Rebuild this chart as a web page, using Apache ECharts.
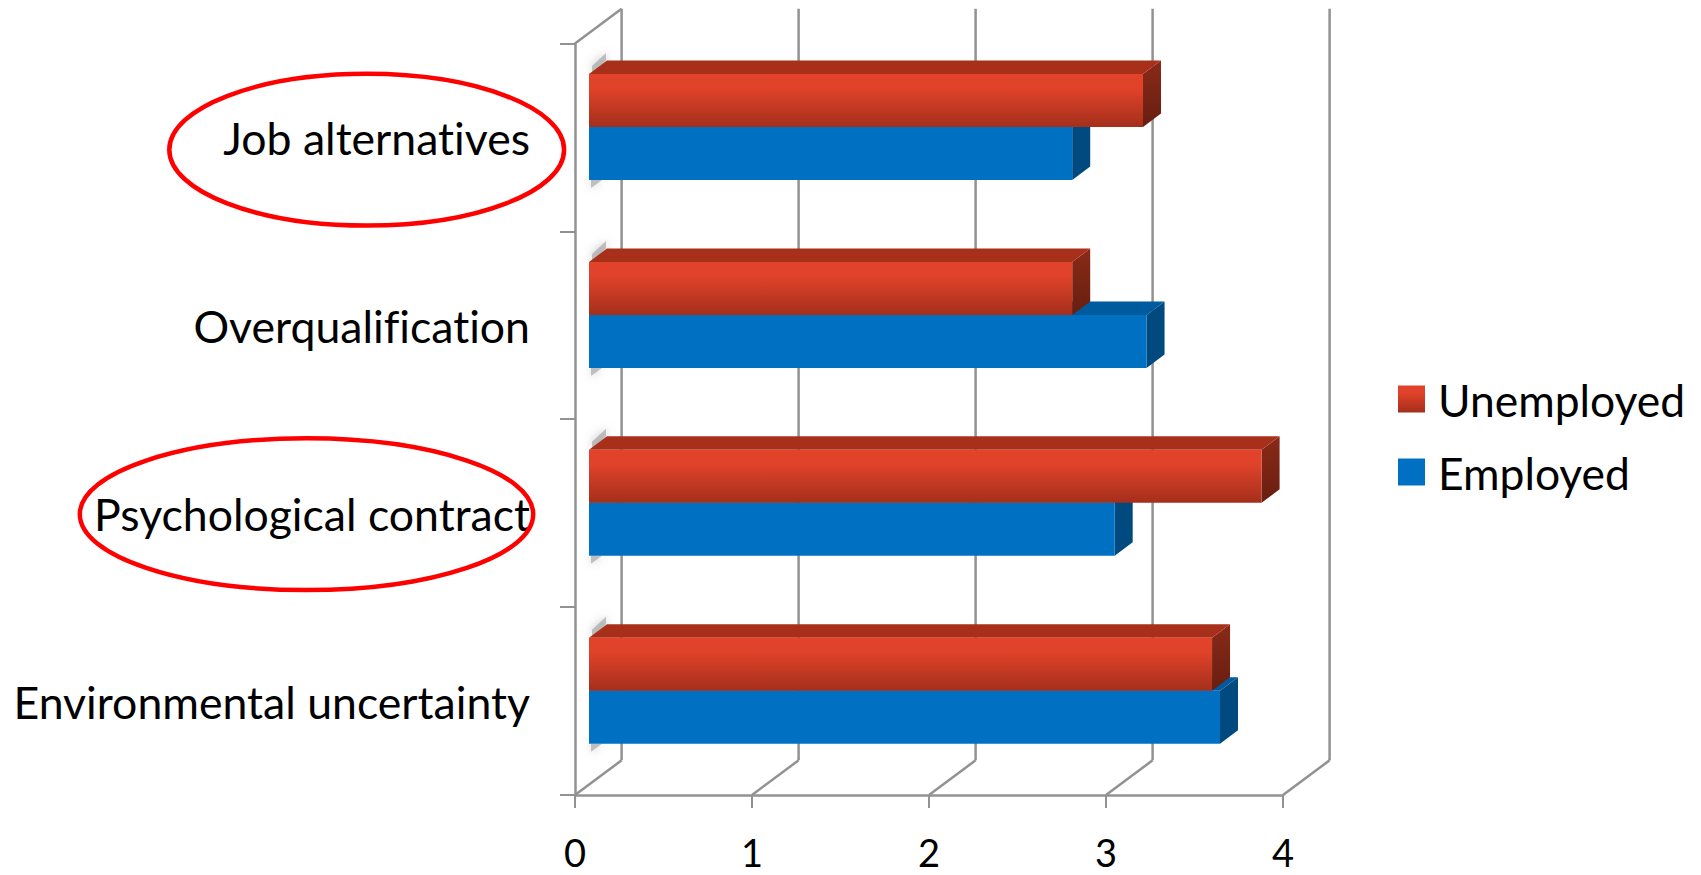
<!DOCTYPE html>
<html>
<head>
<meta charset="utf-8">
<title>Employed and unemployed perceptions</title>
<script src="https://cdn.jsdelivr.net/npm/echarts@6/dist/echarts.min.js"></script>
<style>
html,body{margin:0;padding:0;background:#fff}
#chart{width:1701px;height:875px}
#chart text{font-variant-ligatures:none}
</style>
</head>
<body>
<div id="chart"></div>
<script>
// Values, listed from the top row of the chart downward
const categories = ['Job alternatives', 'Overqualification', 'Psychological contract', 'Environmental uncertainty'];
const unemployed = [3.13, 2.73, 3.80, 3.52];
const employed = [2.73, 3.15, 2.97, 3.565];
const ticks = [0, 1, 2, 3, 4];

// Pseudo-3D projection, in pixels
const wall = { dx: 46.6, dy: -34.7 };   // front plane to back wall
const rest = { dx: 14, dy: -10.3 };     // front plane to the bars' front faces
const side = { dx: 18, dy: -13.5 };     // extrusion of each bar
const barH = 53;
const lineGrey = '#929292';
const lineW = 2.5;
const font = 'Lato';

const vgrad = (stops) => ({
  type: 'linear', x: 0, y: 0, x2: 0, y2: 1,
  colorStops: stops.map(([offset, color]) => ({ offset, color }))
});
const redFront = vgrad([[0, '#e2432a'], [0.28, '#e0422a'], [1, '#a42f1b']]);
const redSide = vgrad([[0, '#8a2a18'], [1, '#681e10']]);
const blue = '#0071c2';

const chart = echarts.init(document.getElementById('chart'), null, { renderer: 'svg' });

// One extruded bar: side face, top face, then front face
function boxRenderer(row, colors) {
  return function (params, api) {
    const v = api.value(0);
    const c = api.coord([v, api.value(1)]);
    const zero = api.coord([0, api.value(1)]);
    const x0 = zero[0] + rest.dx;
    const x1 = c[0] + rest.dx;
    const mid = c[1] + rest.dy;
    const top = row === 0 ? mid - barH : mid;
    const bot = top + barH;
    const poly = (points, fill) => ({ type: 'polygon', shape: { points }, style: { fill } });
    return {
      type: 'group',
      children: [
        poly([[x1, top], [x1 + side.dx, top + side.dy], [x1 + side.dx, bot + side.dy], [x1, bot]], colors.side),
        poly([[x0, top], [x0 + side.dx, top + side.dy], [x1 + side.dx, top + side.dy], [x1, top]], colors.top),
        { type: 'rect', shape: { x: x0, y: top, width: x1 - x0, height: barH }, style: { fill: colors.front } }
      ]
    };
  };
}

// Walls and floor: one back-wall gridline plus floor diagonal for each tick
function frameRenderer(params, api) {
  const v = api.value(0);
  const band = api.size([0, 1])[1];
  const last = api.coord([v, categories.length - 1]);
  const first = api.coord([0, 0]);
  const baseY = last[1] + band / 2;
  const topY = first[1] - band / 2;
  const line = (x1, y1, x2, y2) => ({
    type: 'line', shape: { x1, y1, x2, y2 }, style: { stroke: lineGrey, lineWidth: lineW }
  });
  const bx = last[0] + wall.dx;
  const by = baseY + wall.dy;
  const children = [
    line(last[0], baseY, bx, by),
    line(bx, by, bx, topY + wall.dy)
  ];
  if (v === 0) {
    children.push(line(first[0], topY, first[0] + wall.dx, topY + wall.dy));
  }
  return { type: 'group', children };
}

// Soft grey smudge along the left end of each pair of bars
function smudgeRenderer(params, api) {
  const c = api.coord([0, api.value(0)]);
  const x0 = c[0] + rest.dx;
  const mid = c[1] + rest.dy;
  const up = mid - barH;
  const low = mid + barH;
  const soft = { fill: 'rgba(150,150,150,0.55)', shadowColor: 'rgba(130,130,130,0.9)', shadowBlur: 10 };
  return {
    type: 'group',
    children: [
      {
        type: 'polygon',
        shape: { points: [[x0 + 3, up], [x0 + side.dx - 1, up + side.dy], [x0 + side.dx - 1, up - 21], [x0 + 3, up - 8]] },
        style: soft
      },
      {
        type: 'polygon',
        shape: { points: [[x0 + 2, low], [x0 + 13, low], [x0 + 2, low + 8]] },
        style: soft
      }
    ]
  };
}

const toPairs = (values) => values.map((v, i) => [v, i]);

chart.setOption({
  animation: false,
  backgroundColor: '#ffffff',
  grid: { left: 575, right: 418, top: 43.4, bottom: 80, containLabel: false, outerBoundsMode: 'none' },
  xAxis: {
    type: 'value', min: 0, max: 4, interval: 1,
    splitLine: { show: false },
    axisLine: { show: true, lineStyle: { color: lineGrey, width: lineW } },
    axisTick: { show: true, length: 13, lineStyle: { color: lineGrey, width: 2 } },
    axisLabel: { color: '#000', fontFamily: font, fontSize: 38, lineHeight: 34, margin: 40, formatter: (v) => String(ticks[v]) }
  },
  yAxis: {
    type: 'category', inverse: true, data: categories,
    axisLine: { show: true, onZero: false, lineStyle: { color: lineGrey, width: lineW } },
    axisTick: { show: true, length: 15, lineStyle: { color: lineGrey, width: 2 } },
    axisLabel: { color: '#000', fontFamily: font, fontSize: 44.6, margin: 45, padding: [9, 0, 0, 0] }
  },
  legend: {
    data: ['Unemployed', 'Employed'],
    orient: 'vertical', left: 1393, top: 372,
    itemWidth: 27, itemHeight: 27, itemGap: 29,
    icon: 'rect',
    textStyle: { color: '#000', fontFamily: font, fontSize: 44.4, padding: [0, 0, 0, 8] }
  },
  series: [
    {
      name: 'frame', type: 'custom', z: 1, silent: true, clip: false,
      data: ticks.map((t) => [t]), encode: { x: 0 }, renderItem: frameRenderer
    },
    {
      name: 'smudge', type: 'custom', z: 1, silent: true, clip: false,
      data: categories.map((_, i) => [i]), encode: { y: 0 }, renderItem: smudgeRenderer
    },
    {
      name: 'Unemployed', type: 'custom', z: 4, clip: false,
      itemStyle: { color: redFront },
      data: toPairs(unemployed), encode: { x: 0, y: 1 },
      renderItem: boxRenderer(0, { front: redFront, top: '#a8301b', side: redSide })
    },
    {
      name: 'Employed', type: 'custom', z: 3, clip: false,
      itemStyle: { color: blue },
      data: toPairs(employed), encode: { x: 0, y: 1 },
      renderItem: boxRenderer(1, { front: blue, top: '#005b9e', side: '#004a80' })
    }
  ],
  // Hand-drawn red rings around the two highlighted factors
  graphic: [
    { type: 'ellipse', z: 10, shape: { cx: 366.7, cy: 149.7, rx: 197.4, ry: 75.9 }, style: { fill: 'none', stroke: '#ff0000', lineWidth: 4.5 } },
    { type: 'ellipse', z: 10, shape: { cx: 306.5, cy: 514.2, rx: 226.7, ry: 75.9 }, style: { fill: 'none', stroke: '#ff0000', lineWidth: 4.5 } }
  ]
});
</script>
</body>
</html>
